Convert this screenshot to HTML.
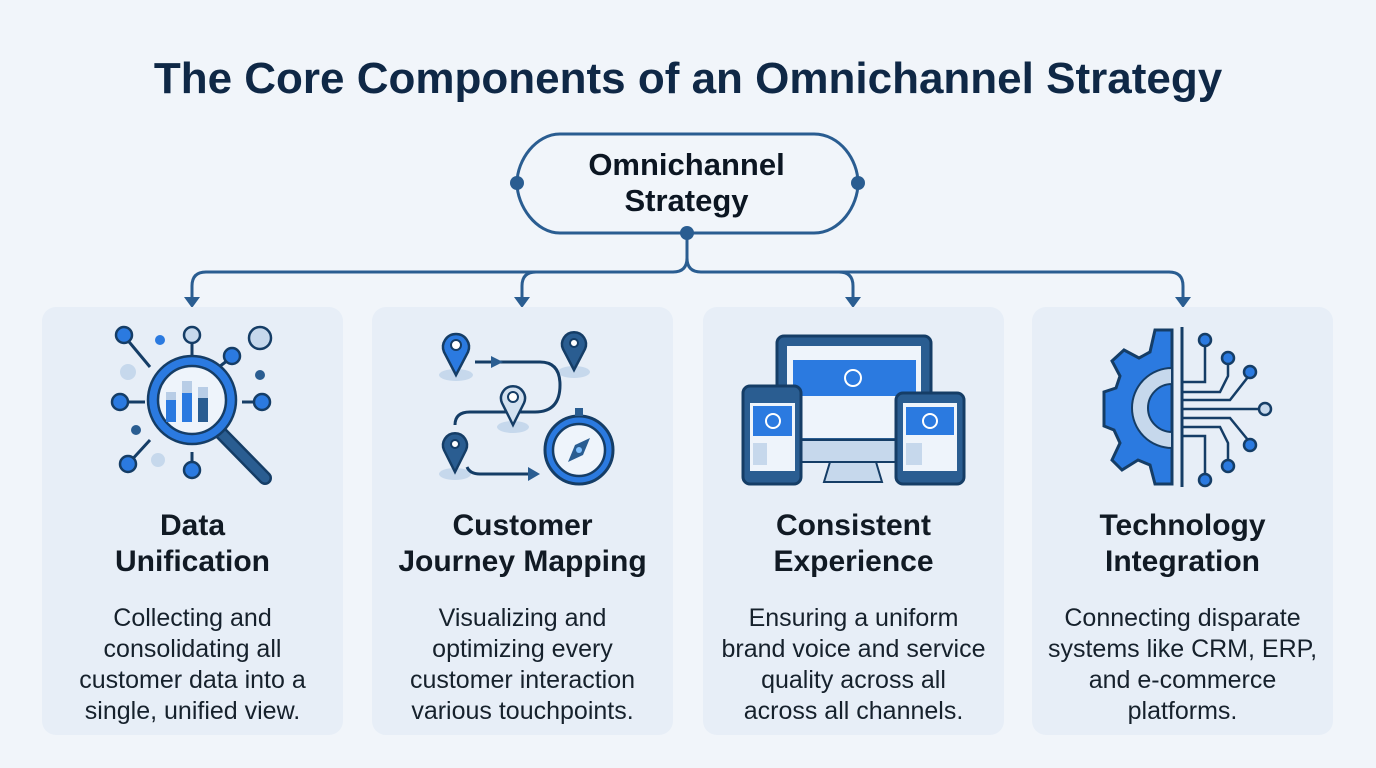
<!DOCTYPE html>
<html><head><meta charset="utf-8"><style>
body{margin:0;width:1376px;height:768px;background:#f1f5fa;font-family:"Liberation Sans",sans-serif;position:relative;overflow:hidden}
.t{position:absolute;left:0;width:1376px;top:54px;text-align:center;font-size:44px;font-weight:bold;color:#0f2846}
.card{position:absolute;top:307px;width:301px;height:428px;background:#e7eef7;border-radius:14px}
.h{position:absolute;top:201px;width:100%;text-align:center;font-size:30px;font-weight:bold;color:#111a24;line-height:36px}
.p{position:absolute;top:296px;width:100%;text-align:center;font-size:25px;color:#16212c;line-height:31px}
.node{position:absolute;left:515px;top:133px;width:343px;height:100px;text-align:center;font-size:31px;font-weight:bold;color:#0c1622;line-height:36px;padding-top:14px;box-sizing:border-box}
</style></head><body>
<div class="t">The Core Components of an Omnichannel Strategy</div>
<svg width="1376" height="768" style="position:absolute;left:0;top:0">
<g fill="none" stroke="#2a5d91" stroke-width="3">
<path d="M560,134 H814 C840,134 858,160 858,183 C858,206 840,233 814,233 H560 C536,233 517,206 517,183 C517,160 536,134 560,134 Z"/>
<path d="M687,233 V258 Q687,272 673,272 H206 Q192,272 192,286 V298"/>
<path d="M687,258 Q687,272 701,272 H1169 Q1183,272 1183,286 V298"/>
<path d="M536,272 Q522,272 522,286 V298"/>
<path d="M839,272 Q853,272 853,286 V298"/>
</g>
<g fill="#2a5d91"><circle cx="517" cy="183" r="7"/><circle cx="858" cy="183" r="7"/><circle cx="687" cy="233" r="7"/>
<path d="M184,297h16l-8,11z"/><path d="M514,297h16l-8,11z"/><path d="M845,297h16l-8,11z"/><path d="M1175,297h16l-8,11z"/></g>
</svg>
<div class="node">Omnichannel<br>Strategy</div>

<div class="card" style="left:42px"><div class="h">Data<br>Unification</div><div class="p">Collecting and<br>consolidating all<br>customer data into a<br>single, unified view.</div></div>
<div class="card" style="left:372px"><div class="h">Customer<br>Journey Mapping</div><div class="p">Visualizing and<br>optimizing every<br>customer interaction<br>various touchpoints.</div></div>
<div class="card" style="left:703px"><div class="h">Consistent<br>Experience</div><div class="p">Ensuring a uniform<br>brand voice and service<br>quality across all<br>across all channels.</div></div>
<div class="card" style="left:1032px"><div class="h">Technology<br>Integration</div><div class="p">Connecting disparate<br>systems like CRM, ERP,<br>and e-commerce<br>platforms.</div></div>

<svg width="1376" height="768" style="position:absolute;left:0;top:0">
<g stroke="#153d66" stroke-width="3">
<line x1="125" y1="337" x2="150" y2="367"/><line x1="192" y1="342" x2="192" y2="360"/><line x1="232" y1="357" x2="215" y2="370"/>
<line x1="127" y1="402" x2="145" y2="402"/><line x1="242" y1="402" x2="260" y2="402"/><line x1="128" y1="464" x2="150" y2="440"/><line x1="192" y1="452" x2="192" y2="470"/>
<line x1="220" y1="432" x2="265" y2="478" stroke-width="14" stroke-linecap="round"/>
</g>
<line x1="222" y1="434" x2="265" y2="478" stroke="#2a5d91" stroke-width="9" stroke-linecap="round"/>
<g stroke="#153d66" stroke-width="2.5">
<circle cx="192" cy="400" r="44" fill="#2b7ae0"/><circle cx="192" cy="400" r="34" fill="#eef4fb"/>
<circle cx="124" cy="335" r="8" fill="#2b7ae0"/><circle cx="192" cy="335" r="8" fill="#c6d8ec"/><circle cx="260" cy="338" r="11" fill="#c6d8ec"/><circle cx="232" cy="356" r="8" fill="#2b7ae0"/>
<circle cx="120" cy="402" r="8" fill="#2b7ae0"/><circle cx="262" cy="402" r="8" fill="#2b7ae0"/><circle cx="128" cy="464" r="8" fill="#2b7ae0"/><circle cx="192" cy="470" r="8" fill="#2b7ae0"/>
</g>
<circle cx="160" cy="340" r="5" fill="#2b7ae0"/><circle cx="128" cy="372" r="8" fill="#c6d8ec"/><circle cx="260" cy="375" r="5" fill="#2a5d91"/><circle cx="136" cy="430" r="5" fill="#2a5d91"/><circle cx="158" cy="460" r="7" fill="#c6d8ec"/>
<rect x="166" y="400" width="10" height="22" fill="#2b7ae0"/><rect x="166" y="392" width="10" height="8" fill="#b8cde6"/>
<rect x="182" y="393" width="10" height="29" fill="#2b7ae0"/><rect x="182" y="381" width="10" height="12" fill="#b8cde6"/>
<rect x="198" y="398" width="10" height="24" fill="#2a5d91"/><rect x="198" y="387" width="10" height="11" fill="#b8cde6"/>
<g fill="#c6d8ec"><ellipse cx="456" cy="375" rx="17" ry="6"/><ellipse cx="574" cy="372" rx="16" ry="6"/><ellipse cx="513" cy="427" rx="16" ry="6"/><ellipse cx="455" cy="474" rx="16" ry="6"/></g>
<g fill="none" stroke="#153d66" stroke-width="3"><path d="M475,362 H540 Q560,362 560,385 Q560,412 535,412 H470 Q455,412 455,425"/><path d="M467,467 Q470,474 480,474 H535"/></g>
<path d="M491,356 l12,6 l-12,6z M528,467 l12,7 l-12,7z" fill="#2a5d91"/>
<g stroke="#153d66" stroke-width="2.5">
<path d="M456,375 L444,352 A13,13 0 1 1 468,352 Z" fill="#2b7ae0"/><path d="M574,370 L563,349 A12,12 0 1 1 585,349 Z" fill="#2a5d91"/>
<path d="M513,425 L502,403 A12,12 0 1 1 524,403 Z" fill="#d3e1f0"/><path d="M455,472 L444,450 A12,12 0 1 1 466,450 Z" fill="#2a5d91"/>
</g>
<g fill="#fff" stroke="#153d66" stroke-width="2"><circle cx="456" cy="345" r="5"/><circle cx="574" cy="343" r="4"/><circle cx="513" cy="397" r="5"/><circle cx="455" cy="444" r="4"/></g>
<circle cx="579" cy="450" r="34" fill="#2b7ae0" stroke="#153d66" stroke-width="3"/><circle cx="579" cy="450" r="26" fill="#eef4fb" stroke="#153d66" stroke-width="2.5"/>
<rect x="575" y="408" width="8" height="8" fill="#2a5d91"/>
<path d="M590,438 L583,455 L568,462 L575,445Z" fill="#2a5d91"/><circle cx="579" cy="450" r="3" fill="#7fc0ff"/>
<rect x="777" y="336" width="154" height="112" rx="7" fill="#2a5d91" stroke="#153d66" stroke-width="3"/>
<rect x="787" y="346" width="134" height="92" fill="#eef4fb"/><rect x="793" y="360" width="123" height="36" fill="#2b7ae0"/>
<rect x="777" y="440" width="154" height="22" fill="#c6d8ec" stroke="#153d66" stroke-width="2"/>
<path d="M830,462 L824,482 H882 L876,462Z" fill="#c6d8ec" stroke="#153d66" stroke-width="2"/>
<circle cx="853" cy="378" r="8" fill="none" stroke="#fff" stroke-width="2"/>
<rect x="743" y="386" width="58" height="98" rx="7" fill="#2a5d91" stroke="#153d66" stroke-width="3"/><rect x="750" y="403" width="45" height="68" fill="#eef4fb"/><rect x="753" y="406" width="39" height="30" fill="#2b7ae0"/>
<rect x="896" y="393" width="68" height="91" rx="7" fill="#2a5d91" stroke="#153d66" stroke-width="3"/><rect x="903" y="403" width="54" height="68" fill="#eef4fb"/><rect x="906" y="407" width="48" height="28" fill="#2b7ae0"/>
<circle cx="773" cy="421" r="7" fill="none" stroke="#fff" stroke-width="2"/><circle cx="930" cy="421" r="7" fill="none" stroke="#fff" stroke-width="2"/>
<rect x="753" y="443" width="14" height="22" fill="#c6d8ec"/><rect x="906" y="443" width="16" height="22" fill="#c6d8ec"/>
<path d="M1172,330 V484 L1155,484 L1150,465 L1138,460 L1122,470 L1112,460 L1120,443 L1114,430 L1104,426 V392 L1116,388 L1120,376 L1112,361 L1124,350 L1139,358 L1150,352 L1155,330Z" fill="#2b7ae0" stroke="#153d66" stroke-width="3"/>
<path d="M1172,368 A40,40 0 0 0 1172,448 V432 A24,24 0 0 1 1172,384Z" fill="#c6d8ec" stroke="#153d66" stroke-width="2"/>
<line x1="1182" y1="327" x2="1182" y2="487" stroke="#153d66" stroke-width="3"/>
<g fill="none" stroke="#153d66" stroke-width="2.5">
<path d="M1182,382 H1205 V345"/><path d="M1182,392 H1220 L1228,376 V360"/><path d="M1182,400 H1230 L1248,377"/><path d="M1182,409 H1262"/>
<path d="M1182,418 H1230 L1248,440"/><path d="M1182,427 H1220 L1228,443 V462"/><path d="M1182,436 H1205 V475"/>
</g>
<g fill="#2b7ae0" stroke="#153d66" stroke-width="2.5"><circle cx="1205" cy="340" r="6"/><circle cx="1228" cy="358" r="6"/><circle cx="1250" cy="372" r="6"/><circle cx="1265" cy="409" r="6" fill="#c6d8ec"/><circle cx="1250" cy="445" r="6"/><circle cx="1228" cy="466" r="6"/><circle cx="1205" cy="480" r="6"/></g>
</svg>
</body></html>
